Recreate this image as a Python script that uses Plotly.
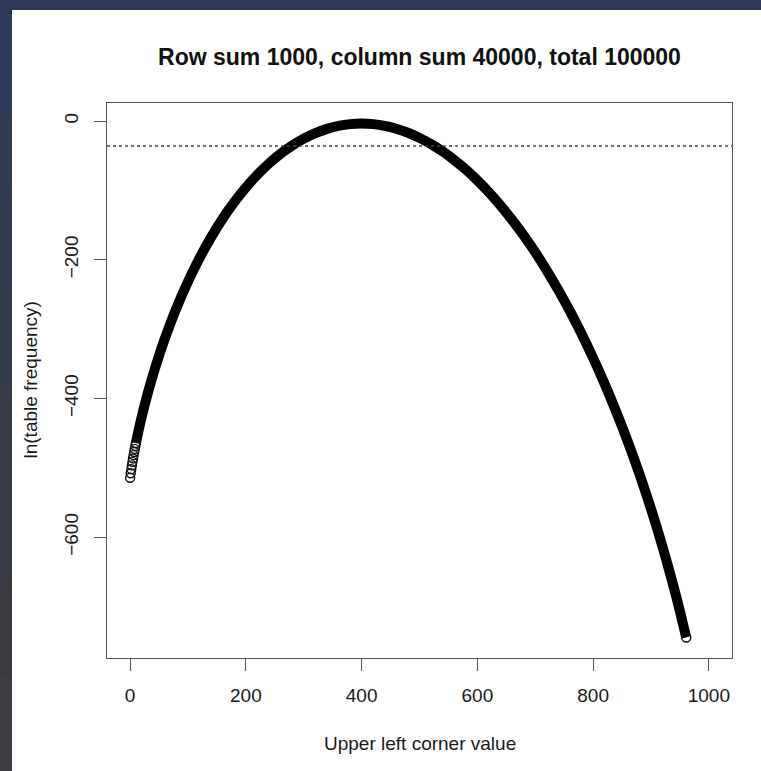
import plotly.graph_objects as go

# Upper-left corner value (x) and ln(table frequency) (y)
x_left = [0, 1, 2, 3, 4, 5, 6, 7, 8, 9, 10]
y_left = [-514.19, -507.67, -501.84, -496.42, -491.29, -486.39, -481.67,
          -477.10, -472.67, -468.35, -464.15]

x_main = [10, 15, 20, 30, 40, 50, 60, 80, 100, 120, 140, 160, 180, 200, 220, 240,
          260, 280, 300, 320, 340, 360, 380, 400, 420, 440, 460, 480, 500,
          520, 540, 560, 580, 600, 620, 640, 660, 680, 700, 720, 740, 760,
          780, 800, 820, 840, 860, 880, 900, 920, 940, 950, 960, 961]
y_main = [-464.15, -444.41, -426.34, -393.73, -364.56, -338.01, -313.55, -269.71,
          -231.35, -197.45, -167.36, -140.61, -116.85, -95.81, -77.29, -61.11,
          -47.15, -35.27, -25.40, -17.44, -11.34, -7.04, -4.49, -3.65, -4.50,
          -7.00, -11.14, -16.90, -24.29, -33.29, -43.91, -56.15, -70.04,
          -85.58, -102.80, -121.74, -142.43, -164.91, -189.25, -215.51,
          -243.77, -274.12, -306.68, -341.59, -379.01, -419.15, -462.29,
          -508.77, -559.05, -613.80, -674.02, -706.67, -741.42, -744.44]

threshold = -36.04  # dotted reference line

x_ticks = [0, 200, 400, 600, 800, 1000]
y_ticks = [0, -200, -400, -600]

title_text = "Row sum 1000, column sum 40000, total 100000"
x_title = "Upper left corner value"
y_title = "ln(table frequency)"

FONT = "Liberation Sans, Arial, Helvetica, sans-serif"
W, H = 761, 771
L, R, T, B = 107, 732, 103, 658
pw, ph = R - L, B - T

def px(xp):
    return (xp - L) / pw

def py(yp):
    return (B - yp) / ph

fig = go.Figure()

fig.add_trace(go.Scatter(
    x=x_main, y=y_main, mode="lines",
    line=dict(color="black", width=10, shape="spline", smoothing=0.8),
    hoverinfo="skip", showlegend=False))
fig.add_trace(go.Scatter(
    x=x_left + [x_main[-1]], y=y_left + [y_main[-1]], mode="markers",
    marker=dict(symbol="circle-open", size=9, color="#111111",
                line=dict(color="#111111", width=1.4)),
    showlegend=False))

shapes = []
# dark frame background pieces
shapes.append(dict(type="rect", xref="paper", yref="paper",
                   x0=px(12), x1=px(W + 20), y0=py(H + 20), y1=py(10),
                   fillcolor="white", line=dict(width=0), layer="below"))
strip_cols = ["#2c3a55", "#2e3a52", "#303a4f", "#333a4b", "#363b47", "#383b44", "#3a3b42", "#3c3c41"]
n = len(strip_cols)
for i, c in enumerate(strip_cols):
    y0p = 10 + (H - 10) * i / n
    y1p = 10 + (H - 10) * (i + 1) / n
    shapes.append(dict(type="rect", xref="paper", yref="paper",
                       x0=px(-10), x1=px(12), y0=py(y1p + 1), y1=py(y0p),
                       fillcolor=c, line=dict(width=0), layer="below"))
shapes.append(dict(type="line", xref="x domain", yref="y", x0=0, x1=1,
                   y0=threshold, y1=threshold,
                   line=dict(color="#444444", width=1.3, dash="dot")))

axis_common = dict(showgrid=False, zeroline=False, showline=True, linecolor="#555555",
                   linewidth=1.3, mirror=True, ticks="outside", ticklen=12,
                   tickwidth=1.3, tickcolor="#555555",
                   tickfont=dict(family=FONT, size=19, color="#1a1a1a"))

fig.update_layout(
    width=W, height=H,
    margin=dict(l=L, r=W - R, t=T, b=H - B),
    paper_bgcolor="#2c3a55", plot_bgcolor="white",
    shapes=shapes,
    title=dict(text="<b>" + title_text + "</b>", x=0.5, xref="paper",
               y=1 - 57 / H, yref="container", yanchor="middle", xanchor="center",
               font=dict(family=FONT, size=23, color="#111111")),
    xaxis=dict(range=[-40, 1040], tickvals=x_ticks, ticklabelstandoff=8, **axis_common),
    yaxis=dict(range=[-774.07, 25.98], tickvals=y_ticks, tickangle=-90,
               ticklabelstandoff=8, **axis_common),
    annotations=[
        dict(text=x_title, xref="paper", yref="paper", x=0.5, y=py(743),
             showarrow=False, xanchor="center", yanchor="middle",
             font=dict(family=FONT, size=19, color="#1a1a1a")),
        dict(text=y_title, xref="paper", yref="paper", x=px(30), y=0.5,
             showarrow=False, xanchor="center", yanchor="middle", textangle=-90,
             font=dict(family=FONT, size=19, color="#1a1a1a")),
    ],
)

fig.write_html("out.html")
